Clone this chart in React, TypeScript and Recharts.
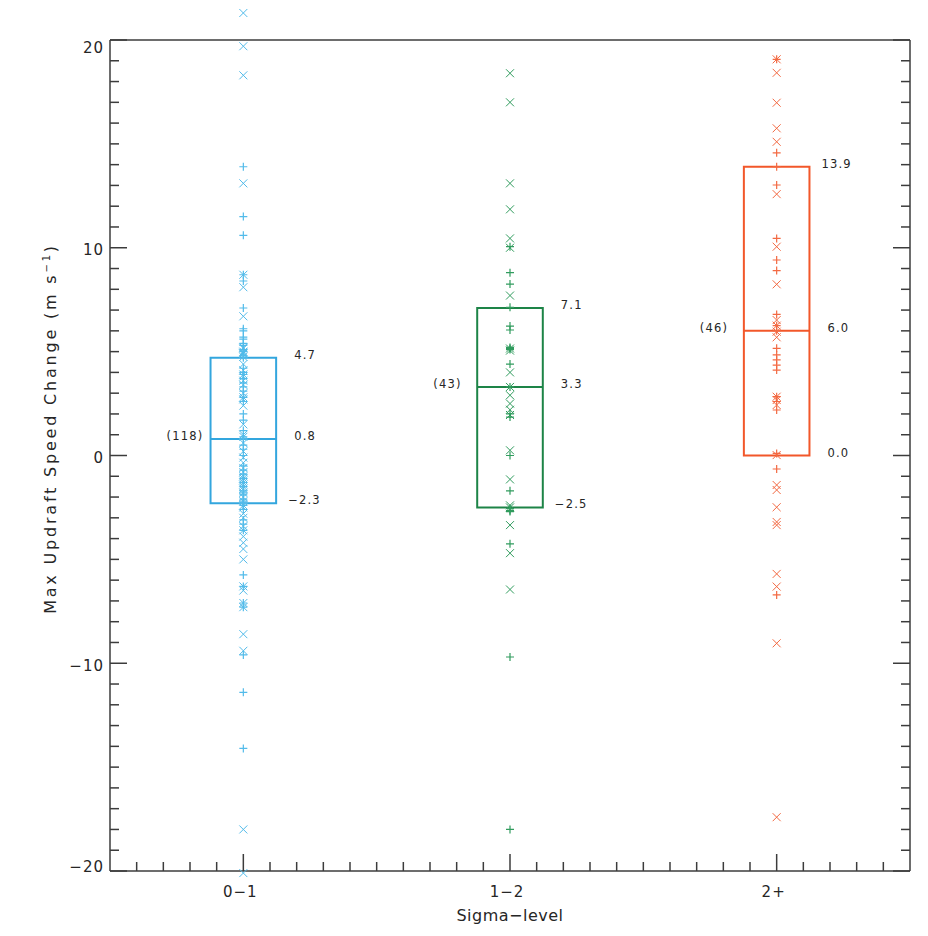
import React from 'react';
import { ScatterChart, Scatter, XAxis, YAxis, ReferenceArea, ReferenceLine } from 'recharts';

// ---------- data ----------
const categories = ['0−1', '1−2', '2+'];
const counts = [118, 43, 46];
const q1 = [-2.3, -2.5, 0.0];
const medians = [0.8, 3.3, 6.0];
const q3 = [4.7, 7.1, 13.9];

const blueCross = [21.3, 19.7, 18.3, 13.1, 8.7, 8.1, 6.7, 5.2, 5.15, 5.0, 4.95, 4.9, 4.9, 4.75, 4.4, 4.1, 3.9, 3.8, 3.6, 3.4, 3.0, 2.8, 2.7, 2.4, 1.5, 1.0, 0.9, 0.6, 0.2, -0.1, -0.35, -0.6, -0.8, -1.0, -1.1, -1.2, -1.3, -1.4, -1.5, -1.6, -1.8, -2.0, -2.2, -2.4, -2.5, -2.8, -3.0, -3.4, -3.6, -3.9, -4.2, -4.5, -5.0, -6.3, -6.5, -7.1, -7.3, -8.6, -9.4, -18.0, -20.1];
const bluePlus = [13.9, 11.5, 10.6, 8.7, 8.4, 7.1, 6.1, 6.0, 5.7, 5.6, 5.4, 5.3, 5.1, 5.0, 4.8, 4.7, 4.2, 4.0, 3.9, 3.7, 3.5, 3.3, 3.1, 2.8, 2.6, 2.0, 1.7, 1.2, 0.9, 0.8, 0.5, 0.3, 0.0, -0.5, -0.7, -0.9, -1.1, -1.3, -1.5, -1.7, -1.8, -1.9, -2.1, -2.2, -2.3, -2.4, -2.6, -3.1, -3.3, -3.6, -5.75, -6.3, -7.1, -7.3, -9.6, -11.4, -14.1];

const greenCross = [18.4, 17.0, 13.1, 11.85, 10.45, 10.0, 7.7, 5.15, 5.05, 4.0, 3.3, 2.9, 2.5, 2.2, 1.95, 0.25, -1.15, -2.4, -2.5, -3.35, -4.7, -6.45];
const greenPlus = [10.05, 8.8, 8.25, 7.13, 6.23, 6.04, 5.2, 5.15, 5.1, 4.4, 3.3, 2.0, 1.85, 0.0, -1.7, -2.55, -2.65, -2.7, -4.25, -9.7, -18.0];

const redCross = [19.07, 18.42, 16.98, 15.75, 15.1, 12.58, 10.05, 8.24, 6.52, 6.25, 5.96, 5.69, 2.83, 2.67, 2.43, 0.02, -1.42, -1.66, -2.49, -3.2, -3.35, -5.7, -6.31, -9.04, -17.41];
const redPlus = [19.07, 14.57, 13.9, 13.02, 10.45, 9.41, 8.9, 6.79, 6.25, 6.0, 5.16, 4.84, 4.6, 4.35, 4.11, 2.83, 2.6, 2.19, 0.1, -0.65, -6.71];

const yMajorTicks = [-20, -10, 0, 10, 20];
const yTicks = Array.from({ length: 41 }, (_, i) => i - 20);
const xTicks = Array.from({ length: 29 }, (_, i) => (i + 1) / 10);

// ---------- styles ----------
const COLORS = [
  { box: '#33a6de', pt: '#52bbea' },
  { box: '#1d8447', pt: '#319c5e' },
  { box: '#f2572a', pt: '#f36942' },
];
const FONT = '"DejaVu Sans", sans-serif';
const INK = '#262626';
const AXIS = '#3c3c3c';
const HALF = 0.123;

const fmt = (v: number) => (v < 0 ? '−' : '') + Math.abs(v).toFixed(1);
const toPoints = (vals: number[], idx: number) => vals.map((v) => ({ x: idx + 0.5, y: v }));

const plusShape = (color: string) => (p: any) => {
  const { cx, cy } = p;
  return <path d={`M${cx - 4},${cy}H${cx + 4}M${cx},${cy - 4}V${cy + 4}`} stroke={color} strokeWidth={1.2} fill="none" />;
};
const crossShape = (color: string) => (p: any) => {
  const { cx, cy } = p;
  return <path d={`M${cx - 4},${cy - 4}L${cx + 4},${cy + 4}M${cx - 4},${cy + 4}L${cx + 4},${cy - 4}`} stroke={color} strokeWidth={1} fill="none" />;
};

const isMajorX = (v: number) => Math.round(v * 10) % 10 === 5;

const LeftTick = (p: any) => {
  const { x, y, payload } = p;
  const v = payload.value;
  const major = yMajorTicks.includes(v);
  const base = v === 20 ? y + 13 : v === -20 ? y + 1 : y + 7.5;
  return (
    <g>
      <line x1={x} x2={x + (major ? 17 : 9)} y1={y} y2={y} stroke={AXIS} strokeWidth={1.5} />
      {major && (
        <text x={x - 6} y={base} textAnchor="end" fontFamily={FONT} fontSize={15} fill={INK} letterSpacing={1}>
          {v < 0 ? '−' + Math.abs(v) : String(v)}
        </text>
      )}
    </g>
  );
};
const RightTick = (p: any) => {
  const { x, y, payload } = p;
  const major = yMajorTicks.includes(payload.value);
  return <line x1={x} x2={x - (major ? 17 : 9)} y1={y} y2={y} stroke={AXIS} strokeWidth={1.5} />;
};
const BottomTick = (p: any) => {
  const { x, y, payload } = p;
  const v = payload.value;
  const major = isMajorX(v);
  return (
    <g>
      <line x1={x} x2={x} y1={y} y2={y - (major ? 17 : 9)} stroke={AXIS} strokeWidth={1.5} />
      {major && (
        <text x={x - 3} y={y + 26} textAnchor="middle" fontFamily={FONT} fontSize={15} fill={INK} letterSpacing={1}>
          {categories[Math.floor(v)]}
        </text>
      )}
    </g>
  );
};
const TopTick = (p: any) => {
  const { x, y, payload } = p;
  const major = isMajorX(payload.value);
  return <line x1={x} x2={x} y1={y} y2={y + (major ? 17 : 9)} stroke={AXIS} strokeWidth={1.5} />;
};

const yTitle = (props: any) => {
  const vb = props.viewBox;
  const cx = vb.x + vb.width - 54;
  const cy = vb.y + vb.height / 2 - 27;
  return (
    <text x={cx} y={cy} transform={`rotate(-90 ${cx} ${cy})`} textAnchor="middle" fontFamily={FONT} fontSize={16} fill={INK} letterSpacing={2.8}>
      Max Updraft Speed Change (m s<tspan dy={-6} fontSize={10}>−1</tspan><tspan dy={6}>)</tspan>
    </text>
  );
};
const xTitle = (props: any) => {
  const vb = props.viewBox;
  return (
    <text x={vb.x + vb.width / 2} y={vb.y + 50} textAnchor="middle" fontFamily={FONT} fontSize={16} fill={INK} letterSpacing={0.5}>
      Sigma−level
    </text>
  );
};

const textProps = { fontFamily: FONT, fontSize: 11.5, fill: INK, letterSpacing: 1.2 };

const boxLabel = (i: number) => (props: any) => {
  const { x, y, width, height } = props.viewBox;
  const right = x + width;
  const top = fmt(q3[i]);
  const bot = fmt(q1[i]);
  return (
    <g>
      <text x={right + 12 + (top.length === 3 ? 6 : 0)} y={y + 1} {...textProps}>{top}</text>
      <text x={right + 12 + (bot.length === 3 ? 6 : 0)} y={y + height + 1} {...textProps}>{bot}</text>
    </g>
  );
};
const medianLabel = (i: number) => (props: any) => {
  const { x, y, width } = props.viewBox;
  const med = fmt(medians[i]);
  return (
    <g>
      <text x={x + width + 12 + (med.length === 3 ? 6 : 0)} y={y + 1} {...textProps}>{med}</text>
      <text x={x - 44} y={y + 1} {...textProps}>({counts[i]})</text>
    </g>
  );
};

const groups = [
  { cross: blueCross, plus: bluePlus },
  { cross: greenCross, plus: greenPlus },
  { cross: redCross, plus: redPlus },
];

const axisLine = { stroke: AXIS, strokeWidth: 1.5 };

export default function App() {
  return (
    <div style={{ position: 'relative', width: 928, height: 936, marginLeft: -8, marginTop: -8, background: '#ffffff', overflow: 'hidden' }}>
      <style>{`.recharts-scatter{clip-path:none !important;}`}</style>
      <div style={{ position: 'absolute', left: 0, top: 0 }}>
        <ScatterChart width={928} height={936} margin={{ top: 39, right: 17, bottom: 64, left: 109 }}>
          <XAxis
            xAxisId="b"
            type="number"
            dataKey="x"
            domain={[0, 3]}
            allowDataOverflow
            ticks={xTicks}
            interval={0}
            height={1}
            tickSize={0}
            tickMargin={0}
            tick={BottomTick}
            axisLine={axisLine}
            tickLine={false}
            label={xTitle}
          />
          <XAxis
            xAxisId="t"
            orientation="top"
            type="number"
            domain={[0, 3]}
            allowDataOverflow
            ticks={xTicks}
            interval={0}
            height={1}
            tickSize={0}
            tickMargin={0}
            tick={TopTick}
            axisLine={axisLine}
            tickLine={false}
          />
          <YAxis
            yAxisId="l"
            type="number"
            dataKey="y"
            domain={[-20, 20]}
            allowDataOverflow
            ticks={yTicks}
            interval={0}
            width={1}
            tickSize={0}
            tickMargin={0}
            tick={LeftTick}
            axisLine={axisLine}
            tickLine={false}
            label={yTitle}
          />
          <YAxis
            yAxisId="r"
            orientation="right"
            type="number"
            domain={[-20, 20]}
            allowDataOverflow
            ticks={yTicks}
            interval={0}
            width={1}
            tickSize={0}
            tickMargin={0}
            tick={RightTick}
            axisLine={axisLine}
            tickLine={false}
          />
          {groups.map((g, i) => (
            <ReferenceArea
              key={`box${i}`}
              xAxisId="b"
              yAxisId="l"
              x1={i + 0.5 - HALF}
              x2={i + 0.5 + HALF}
              y1={q1[i]}
              y2={q3[i]}
              fill="none"
              fillOpacity={0}
              stroke={COLORS[i].box}
              strokeWidth={2}
              strokeOpacity={1}
              label={boxLabel(i)}
            />
          ))}
          {groups.map((g, i) => (
            <ReferenceLine
              key={`med${i}`}
              xAxisId="b"
              yAxisId="l"
              segment={[
                { x: i + 0.5 - HALF, y: medians[i] },
                { x: i + 0.5 + HALF, y: medians[i] },
              ]}
              stroke={COLORS[i].box}
              strokeWidth={2}
              label={medianLabel(i)}
            />
          ))}
          {groups.map((g, i) => (
            <Scatter
              key={`c${i}`}
              xAxisId="b"
              yAxisId="l"
              data={toPoints(g.cross, i)}
              shape={crossShape(COLORS[i].pt)}
              isAnimationActive={false}
            />
          ))}
          {groups.map((g, i) => (
            <Scatter
              key={`p${i}`}
              xAxisId="b"
              yAxisId="l"
              data={toPoints(g.plus, i)}
              shape={plusShape(COLORS[i].pt)}
              isAnimationActive={false}
            />
          ))}
        </ScatterChart>
      </div>
    </div>
  );
}
